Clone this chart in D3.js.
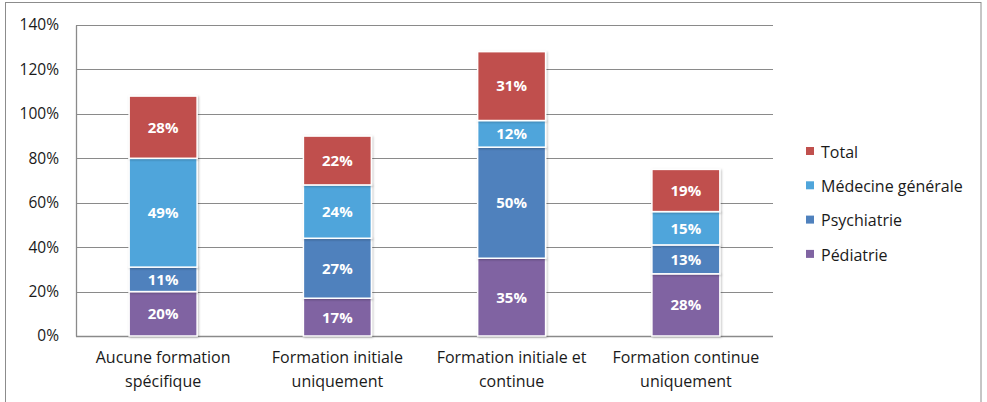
<!DOCTYPE html>
<html>
<head>
<meta charset="utf-8">
<script src="https://cdn.jsdelivr.net/npm/d3@7"></script>
<style>
  body { margin: 0; background: #fff; }
  svg { display: block; }
  text { font-family: "Open Sans", "Noto Sans", sans-serif; }
</style>
</head>
<body>
<svg id="chart" width="987" height="402"></svg>
<script>
// Categories (training type) and stacked series values, in percent
const categories = [
  ["Aucune formation", "spécifique"],
  ["Formation initiale", "uniquement"],
  ["Formation initiale et", "continue"],
  ["Formation continue", "uniquement"]
];
const seriesNames = ["Pédiatrie", "Psychiatrie", "Médecine générale", "Total"];
const pediatrie = [20, 17, 35, 28];
const psychiatrie = [11, 27, 50, 13];
const medecineGenerale = [49, 24, 12, 15];
const total = [28, 22, 31, 19];
const yTicks = [0, 20, 40, 60, 80, 100, 120, 140];

const colors = {
  "Pédiatrie": "#8064A2",
  "Psychiatrie": "#4F81BD",
  "Médecine générale": "#4FA5DB",
  "Total": "#C0504D"
};

const valuesBySeries = {
  "Pédiatrie": pediatrie,
  "Psychiatrie": psychiatrie,
  "Médecine générale": medecineGenerale,
  "Total": total
};

const rows = categories.map((c, i) => {
  const r = { key: i };
  seriesNames.forEach(s => r[s] = valuesBySeries[s][i]);
  return r;
});

const svg = d3.select("#chart");
const W = 987, H = 402;
const margin = { left: 76, right: 214, top: 25, bottom: 66 };
const plotW = W - margin.left - margin.right;
const plotH = H - margin.top - margin.bottom;

// Outer frame
svg.append("rect")
  .attr("x", 5.5).attr("y", 2.5)
  .attr("width", W - 8.5 + 2 - 5).attr("height", H + 10)
  .attr("fill", "none").attr("stroke", "#8c8c8c").attr("stroke-width", 1);

const g = svg.append("g").attr("transform", `translate(${margin.left},${margin.top})`);

const x = d3.scaleBand().domain(rows.map(r => r.key)).range([0, plotW]).paddingInner(0.61).paddingOuter(0.305);
const y = d3.scaleLinear().domain([0, 140]).range([plotH, 0]);

// Gridlines
g.append("g").selectAll("line").data(yTicks.filter(t => t > 0)).join("line")
  .attr("x1", 0).attr("x2", plotW)
  .attr("y1", d => Math.round(y(d)) + 0.5).attr("y2", d => Math.round(y(d)) + 0.5)
  .attr("stroke", "#8a8a8a").attr("stroke-width", 1.2);

// Y axis
const yAxis = g.append("g").call(d3.axisLeft(y).tickValues(yTicks).tickFormat(d => d + "%").tickSize(0).tickPadding(17));
yAxis.select(".domain").attr("stroke", "#8a8a8a").attr("stroke-width", 1.3);
yAxis.selectAll("text").attr("font-size", 15.5).attr("fill", "#1a1a1a");

// X axis line
g.append("line").attr("x1", 0).attr("x2", plotW)
  .attr("y1", plotH + 0.5).attr("y2", plotH + 0.5)
  .attr("stroke", "#8a8a8a").attr("stroke-width", 1.3);

// Stacked bars
const stack = d3.stack().keys(seriesNames)(rows);

const defs = svg.append("defs");
const f = defs.append("filter").attr("id", "shadow").attr("x", "-20%").attr("y", "-20%").attr("width", "140%").attr("height", "140%");
f.append("feDropShadow").attr("dx", 1).attr("dy", 1).attr("stdDeviation", 1.2).attr("flood-color", "#000").attr("flood-opacity", 0.25);

const layers = g.append("g").selectAll("g").data(stack).join("g")
  .attr("fill", d => colors[d.key]);

layers.selectAll("rect").data(d => d.map(p => ({ p, key: d.key }))).join("rect")
  .attr("x", d => x(d.p.data.key))
  .attr("y", d => y(d.p[1]))
  .attr("width", x.bandwidth())
  .attr("height", d => y(d.p[0]) - y(d.p[1]))
  .attr("stroke", "#fff").attr("stroke-width", 1.5)
  .attr("filter", "url(#shadow)");

// Value labels
layers.selectAll("text").data(d => d.map(p => ({ p, key: d.key }))).join("text")
  .attr("x", d => x(d.p.data.key) + x.bandwidth() / 2)
  .attr("y", d => (y(d.p[0]) + y(d.p[1])) / 2)
  .attr("dy", "0.36em")
  .attr("text-anchor", "middle")
  .attr("fill", "#fff").attr("font-weight", "bold").attr("font-size", 15)
  .text(d => d.p.data[d.key] + "%");

// Category labels
const xl = g.append("g").selectAll("text").data(rows).join("text")
  .attr("x", d => x(d.key) + x.bandwidth() / 2)
  .attr("y", plotH + 27)
  .attr("text-anchor", "middle")
  .attr("font-size", 16).attr("fill", "#1a1a1a");
xl.selectAll("tspan").data(d => categories[d.key]).join("tspan")
  .attr("x", function () { return d3.select(this.parentNode).attr("x"); })
  .attr("dy", (d, i) => i === 0 ? 0 : 24)
  .text(d => d);

// Legend (top-down: Total first)
const legend = svg.append("g").attr("transform", "translate(806,152)");
const legendOrder = seriesNames.slice().reverse();
const li = legend.selectAll("g").data(legendOrder).join("g")
  .attr("transform", (d, i) => `translate(0,${i * 34.3})`);
li.append("rect").attr("x", 0).attr("y", -5).attr("width", 8).attr("height", 8).attr("fill", d => colors[d]);
li.append("text").attr("x", 15).attr("y", 0).attr("dy", "0.36em")
  .attr("font-size", 16).attr("fill", "#1a1a1a").text(d => d);
</script>
</body>
</html>
